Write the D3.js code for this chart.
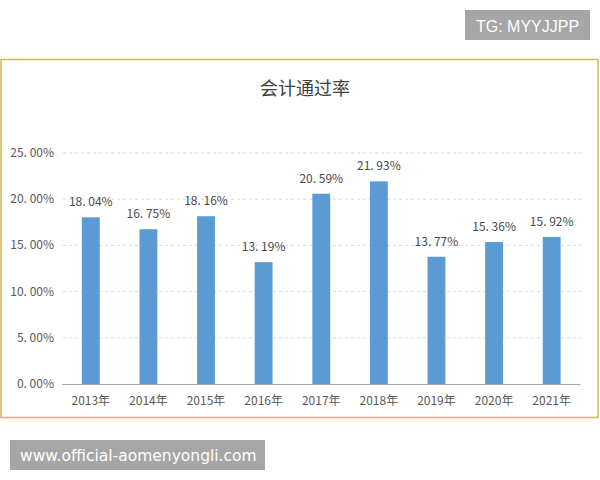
<!DOCTYPE html>
<html>
<head>
<meta charset="utf-8">
<script src="https://cdn.jsdelivr.net/npm/d3@7"></script>
<style>
  html, body { margin: 0; padding: 0; background: #fff; }
  svg { display: block; }
</style>
</head>
<body>
<div id="chart"></div>
<script>
// pass rates, percent
var years = ["2013年", "2014年", "2015年", "2016年", "2017年", "2018年", "2019年", "2020年", "2021年"];
var rates = [18.04, 16.75, 18.16, 13.19, 20.59, 21.93, 13.77, 15.36, 15.92];
var yTicks = [0, 5, 10, 15, 20, 25];
var title = "会计通过率";

var font = "'Noto Sans CJK SC', 'DejaVu Sans', sans-serif";

var svg = d3.select("#chart").append("svg")
    .attr("width", 600)
    .attr("height", 480);

// top-right tag
svg.append("rect").attr("x", 465).attr("y", 10).attr("width", 125).attr("height", 30).style("fill", "#a6a6a6");
svg.append("text").attr("x", 527.5).attr("y", 31.5).attr("text-anchor", "middle")
    .style("font-family", "'Liberation Sans', Arial, sans-serif").style("font-size", "16px").style("fill", "#fff")
    .text("TG: MYYJJPP");

// chart frame
svg.append("rect").attr("x", 1).attr("y", 59.5).attr("width", 597).attr("height", 358)
    .style("fill", "#fff").style("stroke", "#d6b54e").style("stroke-width", 1.5);

svg.append("text").attr("x", 305).attr("y", 95).attr("text-anchor", "middle")
    .style("font-family", font).style("font-size", "18px").style("fill", "#404040")
    .text(title);

var x = d3.scaleBand().domain(years).range([62, 580.5]).paddingInner(0.69).paddingOuter(0.345);
var y = d3.scaleLinear().domain([0, 25]).range([384, 153]);

// gridlines
svg.append("g").selectAll("line").data(yTicks.filter(function(d) { return d > 0; }))
  .enter().append("line")
    .attr("x1", 63).attr("x2", 582)
    .attr("y1", function(d) { return y(d); })
    .attr("y2", function(d) { return y(d); })
    .style("stroke", "#d9d9d9").style("stroke-dasharray", "3,3");

// y labels
svg.append("g").selectAll("text").data(yTicks)
  .enter().append("text")
    .attr("x", 54)
    .attr("y", function(d) { return y(d) + 4; })
    .attr("text-anchor", "end")
    .style("font-family", font).style("font-size", "12px").style("fill", "#595959")
    .text(function(d) { return d.toFixed(2).replace(".", ". ") + "%"; });

// bars
svg.append("g").selectAll("rect").data(rates)
  .enter().append("rect")
    .attr("x", function(d, i) { return x(years[i]); })
    .attr("y", function(d) { return y(d); })
    .attr("width", x.bandwidth())
    .attr("height", function(d) { return y(0) - y(d); })
    .style("fill", "#5b9bd5");

// value labels
svg.append("g").selectAll("text").data(rates)
  .enter().append("text")
    .attr("x", function(d, i) { return x(years[i]) + x.bandwidth() / 2; })
    .attr("y", function(d) { return y(d) - 11; })
    .attr("text-anchor", "middle")
    .style("font-family", font).style("font-size", "12px").style("fill", "#4a4a4a")
    .text(function(d) { return d.toFixed(2).replace(".", ". ") + "%"; });

// x axis
svg.append("line").attr("x1", 62).attr("x2", 580.5).attr("y1", 384.5).attr("y2", 384.5)
    .style("stroke", "#a6a6a6").style("stroke-width", 1);

svg.append("g").selectAll("text").data(years)
  .enter().append("text")
    .attr("x", function(d) { return x(d) + x.bandwidth() / 2; })
    .attr("y", 405)
    .attr("text-anchor", "middle")
    .style("font-family", font).style("font-size", "12px").style("fill", "#595959")
    .text(function(d) { return d; });

// bottom-left tag
svg.append("rect").attr("x", 10).attr("y", 440).attr("width", 255).attr("height", 30).style("fill", "#a6a6a6");
svg.append("text").attr("x", 20).attr("y", 461)
    .style("font-family", "'DejaVu Sans', sans-serif").style("font-size", "15.5px").style("fill", "#fff")
    .text("www.official-aomenyongli.com");
</script>
</body>
</html>
